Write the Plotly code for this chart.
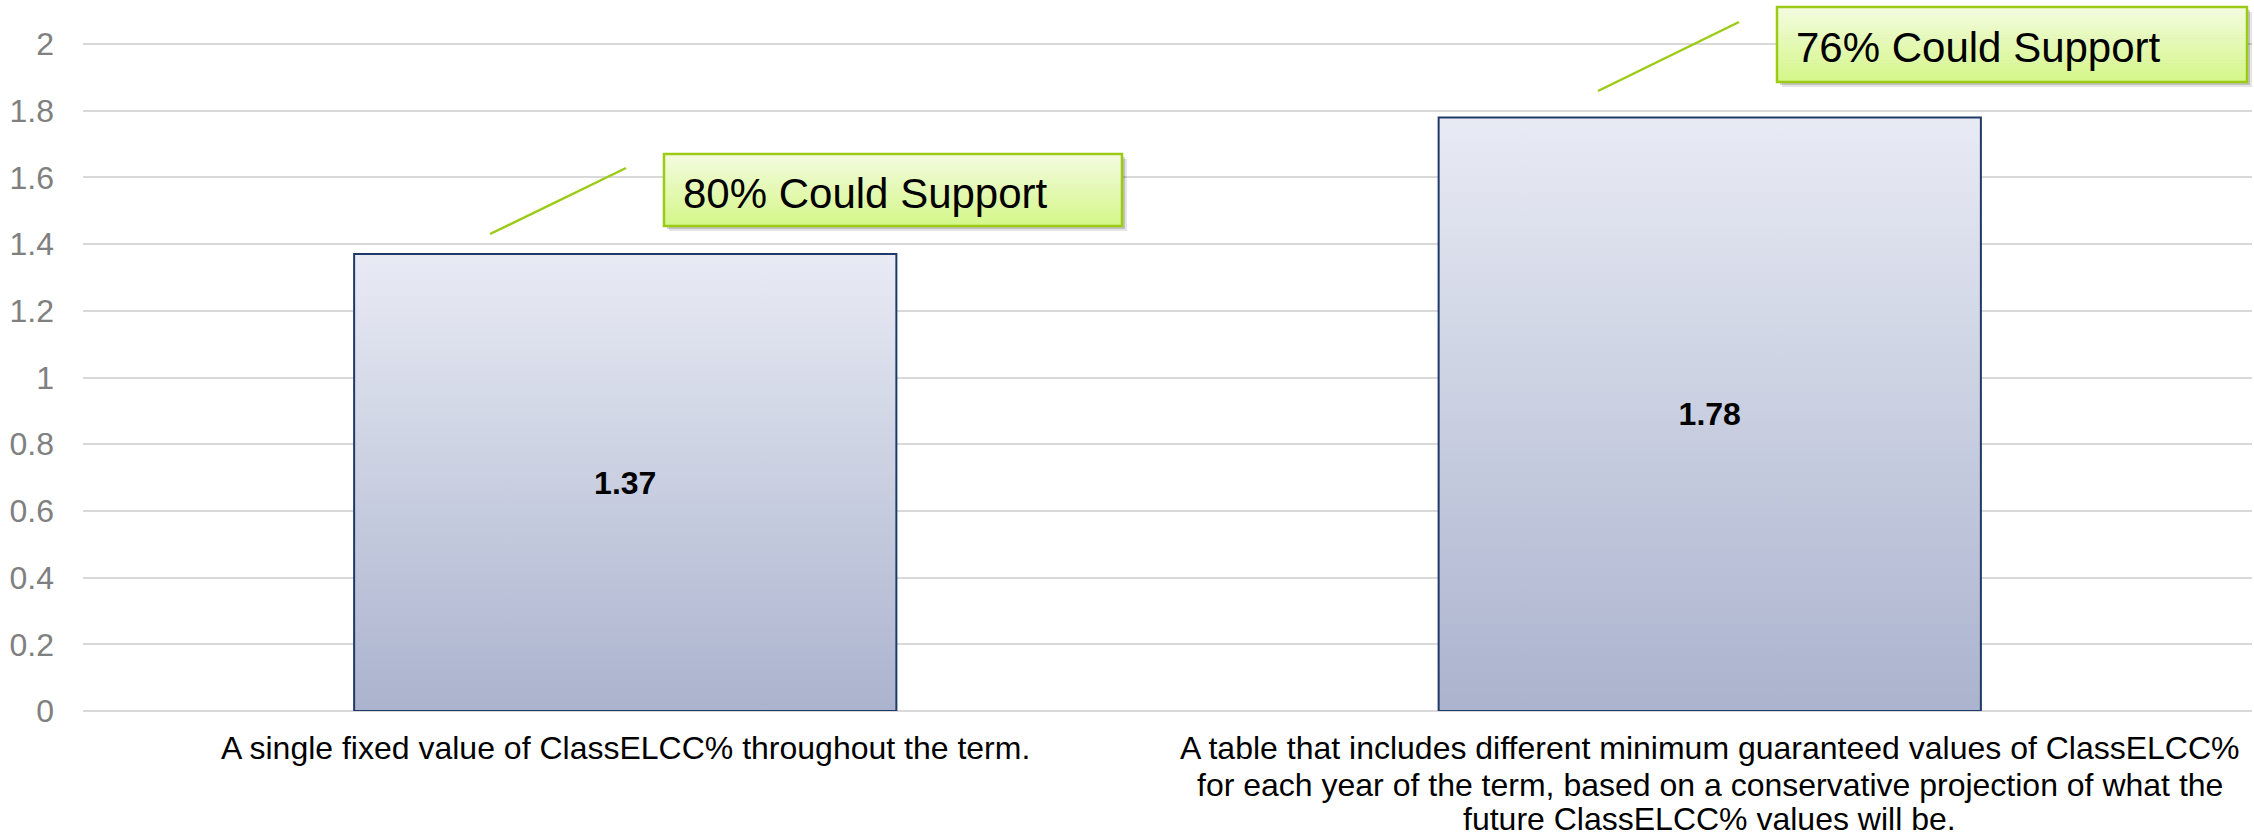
import plotly.graph_objects as go

# ---------------- data ----------------
categories = [
    ["A single fixed value of ClassELCC% throughout the term."],
    ["A table that includes different minimum guaranteed values of ClassELCC%",
     "for each year of the term, based on a conservative projection of what the",
     "future ClassELCC% values will be."],
]
values = [1.37, 1.78]
support_labels = ["80% Could Support", "76% Could Support"]
y_tick_values = [0, 0.2, 0.4, 0.6, 0.8, 1, 1.2, 1.4, 1.6, 1.8, 2]
y_tick_labels = ["0", "0.2", "0.4", "0.6", "0.8", "1", "1.2", "1.4", "1.6", "1.8", "2"]

# ---------------- layout geometry / styles ----------------
W, H = 2254, 837
ML, MR, MT, MB = 83, 2, 0, 126
X_RANGE = [-0.5, 1.5]
Y_RANGE = [0, 2.132]
BAR_WIDTH = 0.5
FONT = "Liberation Sans, Arial, Helvetica, sans-serif"
BAR_TOP = "#e8ebf4"
BAR_BOTTOM = "#abb3ce"
BAR_EDGE = "#1f3a68"
GRID = "#d9d9d9"
GREEN_EDGE = "#9bcb14"
BOX_TOP = (244, 252, 224)
BOX_BOTTOM = (212, 246, 136)
CAT_LINE_Y = [748, 785, 819]   # pixel centres of category label lines

# callout decorations in pixel space (box: x0, y0, x1, y1 ; connector line)
CALLOUTS = [
    dict(box=(664, 154, 1122, 226), line=((490, 234), (626, 168))),
    dict(box=(1777, 7, 2247, 82), line=((1598, 91), (1739, 22))),
]

plot_w = W - ML - MR
plot_h = H - MT - MB


def px_x(px):
    return X_RANGE[0] + (px - ML) / plot_w * (X_RANGE[1] - X_RANGE[0])


def px_y(py):
    return Y_RANGE[0] + (H - MB - py) / plot_h * (Y_RANGE[1] - Y_RANGE[0])


def px_paper_y(py):
    return (H - MB - py) / plot_h


positions = list(range(len(categories)))

fig = go.Figure()

# gradient fills of the bars (base subplot)
for pos, val in zip(positions, values):
    fig.add_trace(go.Scatter(
        x=[pos - BAR_WIDTH / 2, pos + BAR_WIDTH / 2],
        y=[val, val],
        mode="lines",
        line=dict(width=0),
        fill="tozeroy",
        fillgradient=dict(type="vertical", start=0, stop=val,
                          colorscale=[[0, BAR_BOTTOM], [1, BAR_TOP]]),
        hoverinfo="skip",
        showlegend=False,
        xaxis="x", yaxis="y",
    ))

# bar outlines + value labels (overlay subplot, drawn on top)
fig.add_trace(go.Bar(
    x=positions,
    y=values,
    width=BAR_WIDTH,
    marker=dict(color="rgba(0,0,0,0)", line=dict(color=BAR_EDGE, width=2)),
    texttemplate="<b>%{y}</b>",
    textposition="inside",
    insidetextanchor="middle",
    textangle=0,
    textfont=dict(family=FONT, size=32, color="#000000"),
    showlegend=False,
    xaxis="x2", yaxis="y2",
))

shapes = []
annotations = []
N_BANDS = 24
for c, label in zip(CALLOUTS, support_labels):
    x0, y0, x1, y1 = c["box"]
    # soft shadow
    for off, alpha in ((5, 0.10), (3, 0.16)):
        shapes.append(dict(type="rect", xref="x", yref="y", layer="above",
                           x0=px_x(x0 + off), x1=px_x(x1 + off),
                           y0=px_y(y1 + off), y1=px_y(y0 + off),
                           fillcolor=f"rgba(0,0,0,{alpha})", line=dict(width=0)))
    # gradient bands
    for i in range(N_BANDS):
        t = (i + 0.5) / N_BANDS
        col = tuple(round(BOX_TOP[k] + (BOX_BOTTOM[k] - BOX_TOP[k]) * t) for k in range(3))
        ya = y0 + (y1 - y0) * i / N_BANDS
        yb = y0 + (y1 - y0) * (i + 1) / N_BANDS + 0.6
        shapes.append(dict(type="rect", xref="x", yref="y", layer="above",
                           x0=px_x(x0), x1=px_x(x1), y0=px_y(yb), y1=px_y(ya),
                           fillcolor=f"rgb{col}", line=dict(width=0)))
    # border
    shapes.append(dict(type="rect", xref="x", yref="y", layer="above",
                       x0=px_x(x0), x1=px_x(x1), y0=px_y(y1), y1=px_y(y0),
                       fillcolor="rgba(0,0,0,0)", line=dict(color=GREEN_EDGE, width=2.5)))
    # connector line
    (lx0, ly0), (lx1, ly1) = c["line"]
    shapes.append(dict(type="line", xref="x", yref="y", layer="above",
                       x0=px_x(lx0), y0=px_y(ly0), x1=px_x(lx1), y1=px_y(ly1),
                       line=dict(color=GREEN_EDGE, width=2.5)))
    annotations.append(dict(
        text=label, xref="x", yref="y",
        x=px_x(x0 + 17), y=px_y((y0 + y1) / 2 + 3),
        xanchor="left", yanchor="middle", showarrow=False,
        font=dict(family=FONT, size=42, color="#000000"),
    ))

# category labels (one text per line, centred under each bar)
for pos, lines in zip(positions, categories):
    for line_text, py in zip(lines, CAT_LINE_Y):
        annotations.append(dict(
            text=line_text, xref="x", yref="paper",
            x=pos, y=px_paper_y(py),
            xanchor="center", yanchor="middle", showarrow=False,
            borderpad=0, borderwidth=0,
            font=dict(family=FONT, size=32, color="#000000"),
        ))

fig.update_layout(
    template="none",
    width=W, height=H,
    margin=dict(l=ML, r=MR, t=MT, b=MB, pad=0),
    paper_bgcolor="white", plot_bgcolor="white",
    showlegend=False,
    hovermode=False,
    shapes=shapes,
    annotations=annotations,
    xaxis=dict(
        range=X_RANGE, automargin=False,
        tickmode="array", tickvals=positions, showticklabels=False,
        showgrid=False, zeroline=False, showline=False, ticks="",
        fixedrange=True,
    ),
    yaxis=dict(
        range=Y_RANGE, automargin=False,
        tickmode="array", tickvals=y_tick_values, ticktext=y_tick_labels,
        showgrid=True, gridcolor=GRID, gridwidth=2,
        zeroline=True, zerolinecolor=GRID, zerolinewidth=2,
        showline=False, ticks="",
        tickfont=dict(family=FONT, size=32, color="#808080"),
        ticklabelstandoff=28,
        fixedrange=True,
    ),
    xaxis2=dict(range=X_RANGE, overlaying="x", visible=False, fixedrange=True, automargin=False),
    yaxis2=dict(range=Y_RANGE, overlaying="y", visible=False, fixedrange=True, automargin=False),
)

fig.write_html(
    "out.html",
    config={"displayModeBar": False},
    post_script="document.body.style.margin='0px';document.body.style.overflow='hidden';",
)
